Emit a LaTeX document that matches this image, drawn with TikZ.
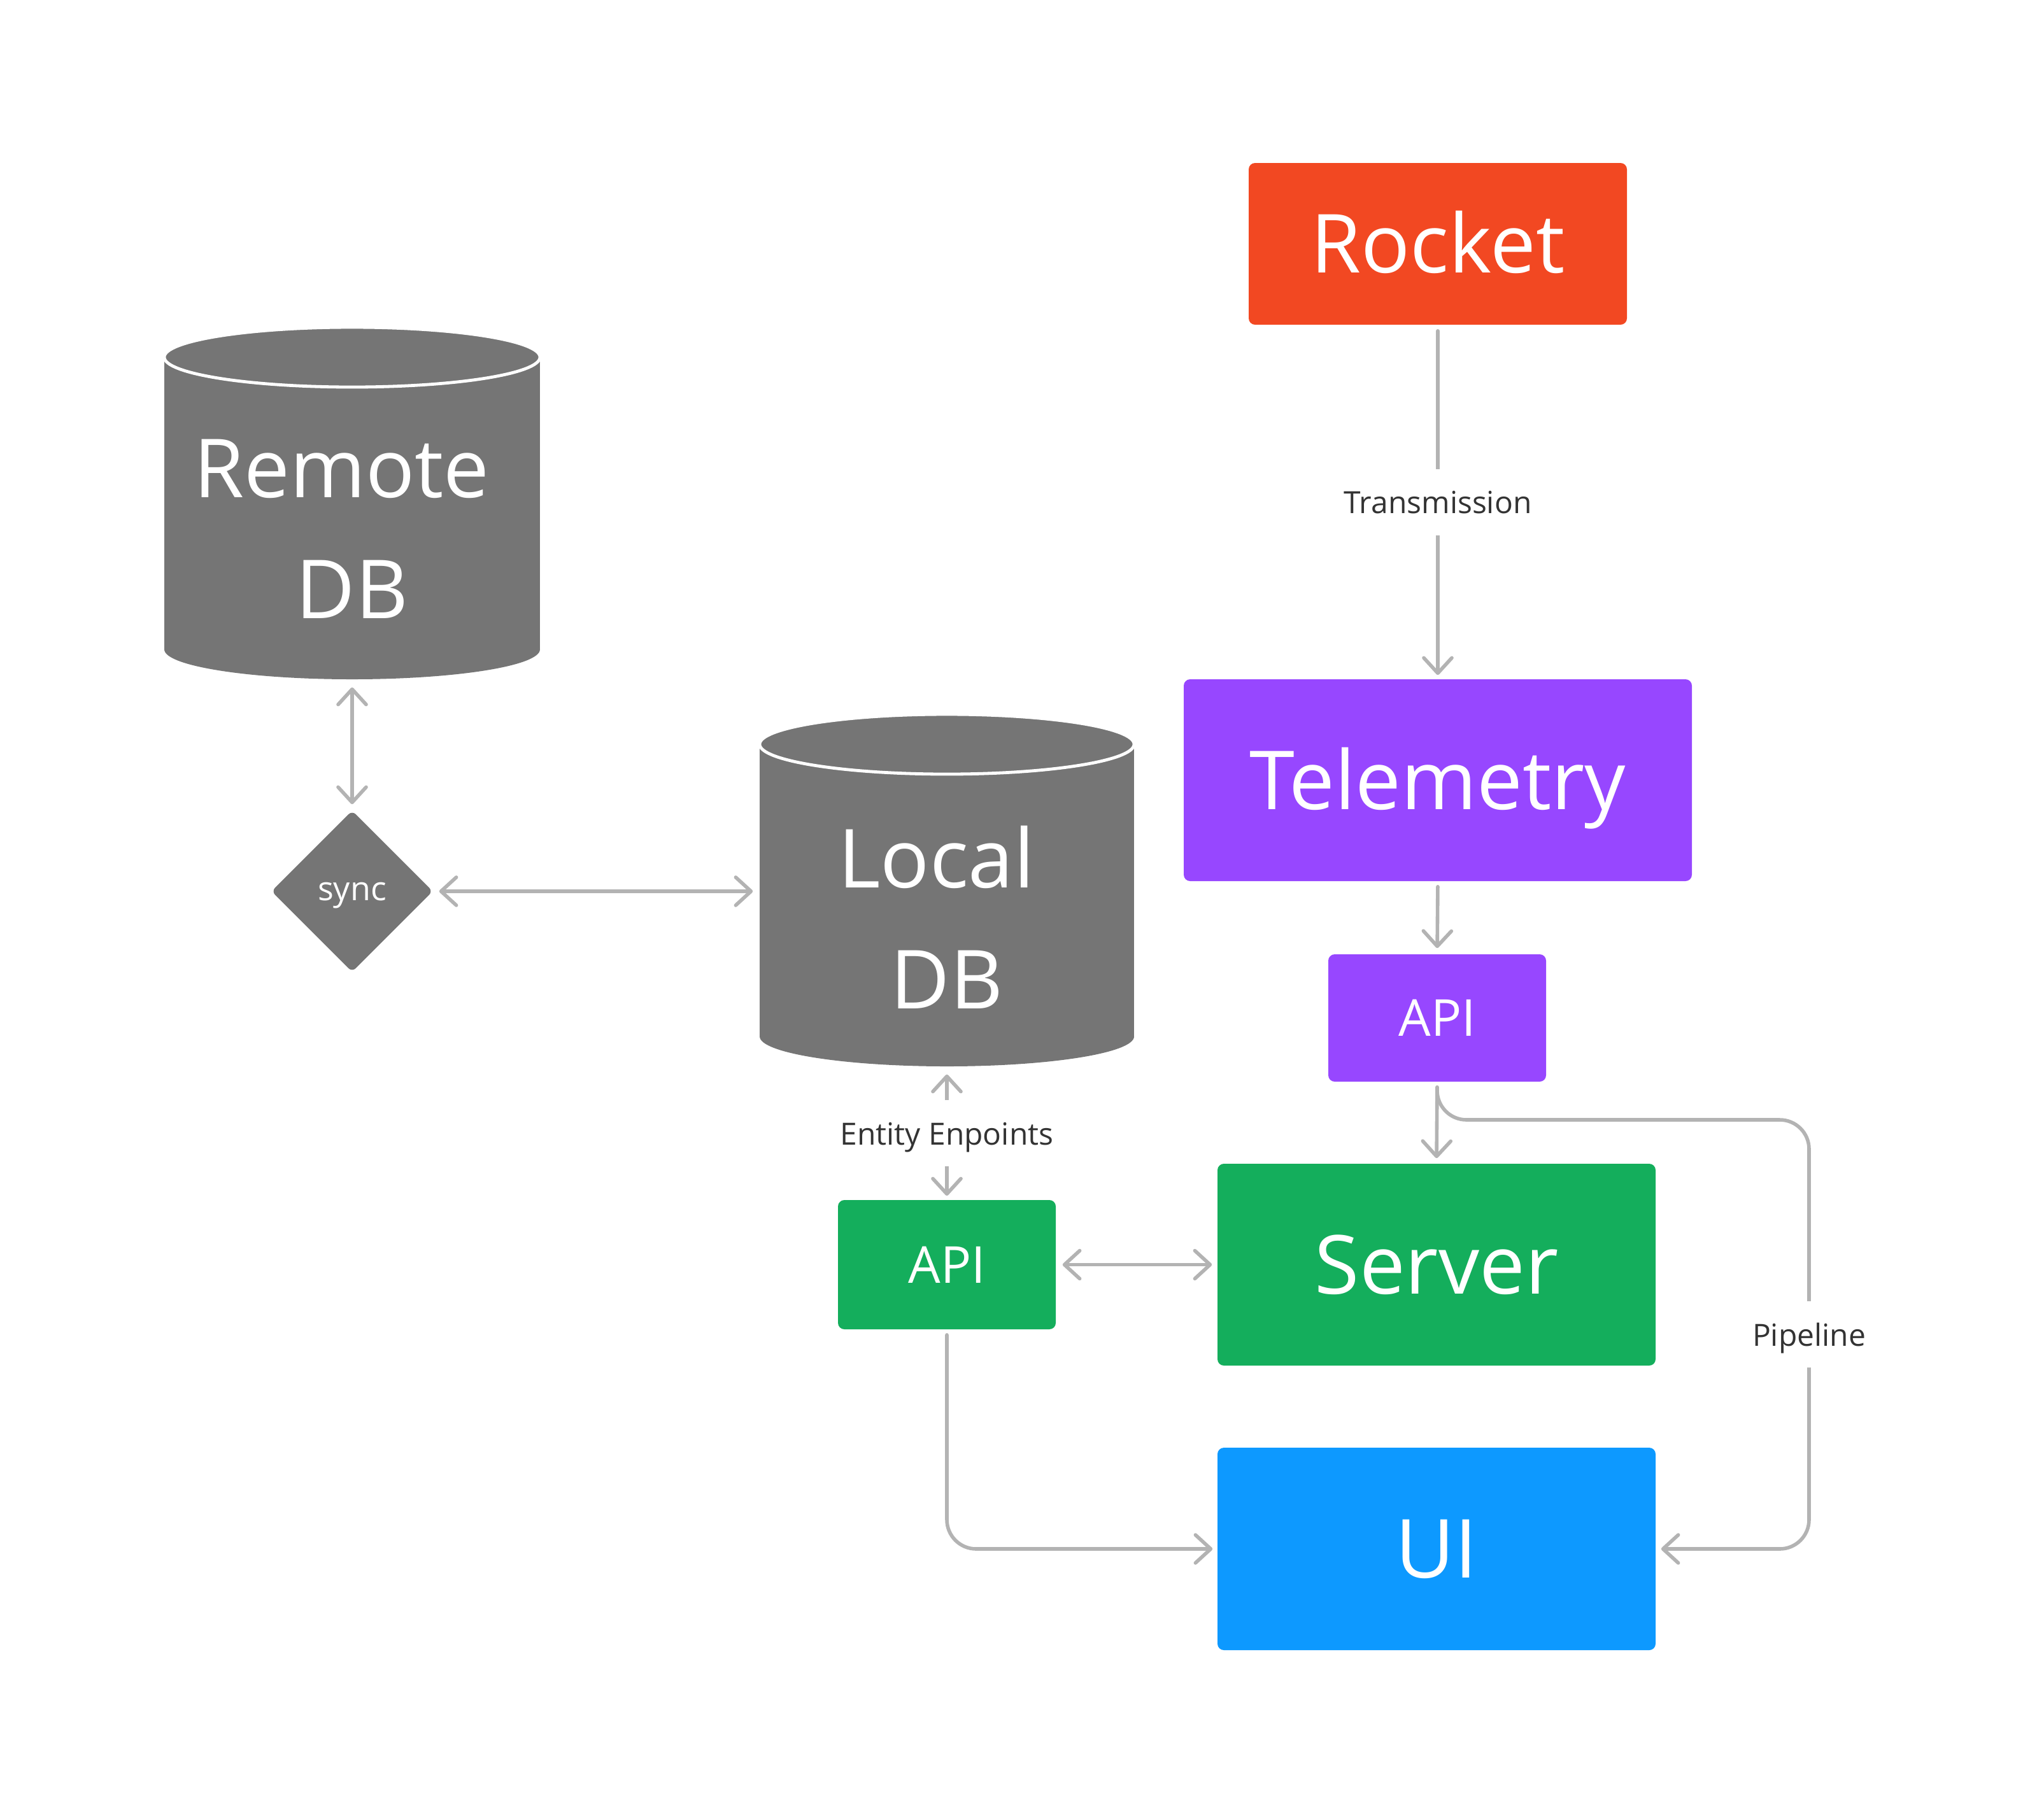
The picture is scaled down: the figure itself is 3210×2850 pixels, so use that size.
\documentclass[tikz,border=0pt]{standalone}
\usepackage{fontspec}
\setmainfont{Open Sans}
\usetikzlibrary{arrows.meta,shapes.geometric}
\definecolor{rocketc}{HTML}{F24822}
\definecolor{telec}{HTML}{9747FF}
\definecolor{greenc}{HTML}{14AE5C}
\definecolor{bluec}{HTML}{0D99FF}
\definecolor{dbc}{HTML}{757575}
\definecolor{linec}{HTML}{B3B3B3}
\definecolor{txtc}{HTML}{333333}
\begin{document}
\begin{tikzpicture}[x=0.25pt,y=-0.25pt,
  >={Straight Barb[length=6pt,width=11pt,round]},
  box/.style={rectangle, rounded corners=2.5pt, inner sep=0pt, text=white, align=center},
  big/.style={font=\fontsize{32}{38}\selectfont, text height=22.8pt, text depth=0pt},
  dbtext/.style={text=white, align=center, inner sep=0pt, font=\fontsize{32}{47.6}\selectfont},
  small/.style={font=\fontsize{20}{24}\selectfont, text height=14.3pt, text depth=0pt},
  conn/.style={draw=linec, line width=1.4pt, line cap=round, line join=round},
  lbl/.style={fill=white, text=txtc, font=\fontsize{12}{14}\selectfont, inner xsep=3pt, inner ysep=8.5pt, text height=9pt, text depth=0pt},
  ghost/.style={rectangle, inner sep=0pt},
]
\useasboundingbox (0,0) rectangle (3210,2850);

% Boxes
\node[box, big, fill=rocketc, minimum width=148.5pt, minimum height=63.5pt] (rocket) at (2258,383) {Rocket};
\node[box, big, fill=telec, minimum width=199.5pt, minimum height=79.25pt] (telem) at (2258,1225.5) {Telemetry};
\node[box, small, fill=telec, minimum width=85.5pt, minimum height=50pt] (apip) at (2257,1599) {API};
\node[box, big, fill=greenc, minimum width=172pt, minimum height=79.25pt] (server) at (2256,1986.5) {Server};
\node[box, big, fill=bluec, minimum width=172pt, minimum height=79.5pt] (ui) at (2256,2433) {UI};
\node[box, small, fill=greenc, minimum width=85.5pt, minimum height=50.75pt] (apig) at (1487,1986.5) {API};

% Remote DB cylinder
\fill[dbc] (258,561) rectangle (848,1020);
\fill[dbc] (553,1020) ellipse [x radius=73.75pt, y radius=11.75pt];
\filldraw[fill=dbc, draw=white, line width=1.2pt] (553,561) ellipse [x radius=73.75pt, y radius=11.75pt];
\node[ghost, minimum width=147.5pt, minimum height=138.25pt] (remote) at (553,790.5) {};
\node[dbtext] (remotelbl) at (553,831) {Remote\hspace*{8.3pt}\\DB};

% Local DB cylinder
\fill[dbc] (1193,1169) rectangle (1781,1628);
\fill[dbc] (1487,1628) ellipse [x radius=73.5pt, y radius=11.75pt];
\filldraw[fill=dbc, draw=white, line width=1.2pt] (1487,1169) ellipse [x radius=73.5pt, y radius=11.75pt];
\node[ghost, minimum width=147pt, minimum height=138.25pt] (local) at (1487,1398.5) {};
\node[dbtext] (locallbl) at (1487,1441) {Local\hspace*{8.3pt}\\DB};

% sync diamond
\node[diamond, fill=dbc, rounded corners=2pt, minimum width=63.5pt, minimum height=63.5pt, inner sep=0pt, text=white, font=\fontsize{13}{15}\selectfont, text height=7pt, text depth=0pt] (sync) at (553,1400) {sync};

% Connectors
\draw[conn,->,shorten <=2.25pt,shorten >=1.5pt] (rocket) -- node[lbl] (translbl) {Transmission} (telem);
\draw[conn,<->,shorten <=3pt,shorten >=2.25pt] (remote.south) -- (sync.north);
\draw[conn,<->,shorten <=2.25pt,shorten >=2.5pt] (sync.east) -- (sync.east -| local.west);
\draw[conn,<->,shorten <=3pt,shorten >=1.5pt] (local.south) -- node[lbl] (entlbl) {Entity Enpoints} (apig.north);
\draw[conn,->,shorten <=2pt,shorten >=2.25pt] (telem.south) -- (apip.north);
\draw[conn,->,shorten <=2pt,shorten >=2pt] (apip.south) -- (server.north);
\coordinate (pc) at (2841,1759);
\draw[conn,->,rounded corners=11.5pt,shorten <=2pt,shorten >=2pt] (apip.south) -- (apip.south |- pc) -- (pc) -- node[lbl] (pipelbl) {Pipeline} (pc |- ui.east) -- (ui.east);
\draw[conn,<->,shorten <=2.5pt,shorten >=2pt] (apig.east) -- (server.west);
\draw[conn,->,rounded corners=11.5pt,shorten <=2pt,shorten >=1.75pt] (apig.south) |- (ui.west);
\end{tikzpicture}
\end{document}
